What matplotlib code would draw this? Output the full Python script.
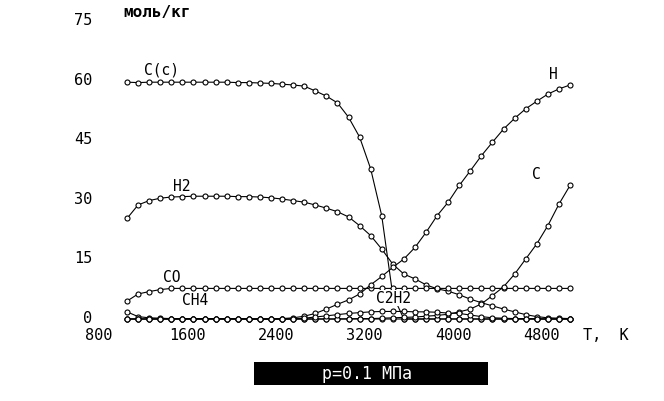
import matplotlib

matplotlib.use("Agg")

import matplotlib.pyplot as plt
import matplotlib.transforms as mtransforms
from matplotlib.patches import Rectangle

temperature = [
    1000, 1100, 1200, 1300, 1400, 1500, 1600, 1700, 1800, 1900,
    2000, 2100, 2200, 2300, 2400, 2500, 2600, 2700, 2800, 2900,
    3000, 3100, 3200, 3300, 3400, 3500, 3600, 3700, 3800, 3900,
    4000, 4100, 4200, 4300, 4400, 4500, 4600, 4700, 4800, 4900, 5000,
]

carbon_solid = [
    59.6, 59.5, 59.6, 59.6, 59.6, 59.6, 59.6, 59.6, 59.6, 59.6,
    59.5, 59.5, 59.4, 59.3, 59.1, 58.9, 58.6, 57.4, 56.1, 54.4,
    50.8, 45.8, 37.8, 26.0, 6.0, 0.0, 0.0, 0.0, 0.0, 0.0,
    0.0, 0.0, 0.0, 0.0, 0.0, 0.0, 0.0, 0.0, 0.0, 0.0, 0.0,
]
hydrogen_mol = [
    25.3, 28.7, 29.8, 30.4, 30.7, 30.8, 30.9, 30.9, 30.9, 30.9,
    30.8, 30.8, 30.7, 30.5, 30.2, 29.8, 29.4, 28.7, 27.9, 27.0,
    25.7, 23.5, 21.0, 17.6, 13.8, 11.3, 10.1, 8.6, 7.6, 7.0,
    6.1, 5.0, 4.1, 3.3, 2.5, 1.8, 1.1, 0.6, 0.3, 0.2, 0.1,
]
carbon_monoxide = [
    4.5, 6.3, 6.9, 7.4, 7.7, 7.7, 7.7, 7.7, 7.7, 7.7,
    7.7, 7.7, 7.7, 7.7, 7.7, 7.7, 7.7, 7.7, 7.7, 7.7,
    7.7, 7.7, 7.7, 7.7, 7.7, 7.7, 7.7, 7.7, 7.7, 7.7,
    7.7, 7.7, 7.7, 7.7, 7.7, 7.7, 7.7, 7.7, 7.7, 7.7, 7.7,
]
methane = [
    1.8, 0.6, 0.3, 0.2, 0.1, 0.1, 0.1, 0.1, 0.1, 0.1,
    0.1, 0.0, 0.0, 0.0, 0.0, 0.0, 0.0, 0.0, 0.0, 0.0,
    0.0, 0.0, 0.0, 0.0, 0.0, 0.0, 0.0, 0.0, 0.0, 0.0,
    0.0, 0.0, 0.0, 0.0, 0.0, 0.0, 0.0, 0.0, 0.0, 0.0, 0.0,
]
hydrogen_atom = [
    0.0, 0.0, 0.0, 0.0, 0.0, 0.0, 0.0, 0.0, 0.0, 0.0,
    0.0, 0.0, 0.0, 0.0, 0.1, 0.3, 0.7, 1.4, 2.5, 3.7,
    4.8, 6.3, 8.6, 10.7, 13.0, 15.1, 18.0, 21.8, 26.0, 29.4,
    33.6, 37.3, 41.1, 44.5, 47.8, 50.5, 52.9, 54.8, 56.6, 57.9, 58.9,
]
carbon_atom = [
    0.0, 0.0, 0.0, 0.0, 0.0, 0.0, 0.0, 0.0, 0.0, 0.0,
    0.0, 0.0, 0.0, 0.0, 0.0, 0.0, 0.0, 0.0, 0.0, 0.0,
    0.05, 0.1, 0.1, 0.2, 0.3, 0.4, 0.5, 0.7, 0.9, 1.2,
    1.8, 2.5, 3.8, 5.9, 8.1, 11.3, 15.1, 18.9, 23.5, 28.9, 33.6,
]
acetylene = [
    0.0, 0.0, 0.0, 0.0, 0.0, 0.0, 0.0, 0.0, 0.0, 0.0,
    0.0, 0.0, 0.0, 0.0, 0.0, 0.0, 0.2, 0.5, 0.8, 1.1,
    1.4, 1.6, 1.8, 1.9, 1.9, 1.9, 1.8, 1.8, 1.7, 1.5,
    1.4, 1.0, 0.6, 0.3, 0.2, 0.1, 0.1, 0.05, 0.0, 0.0, 0.0,
]

series = [carbon_solid, hydrogen_mol, carbon_monoxide, methane,
          hydrogen_atom, carbon_atom, acetylene]

curve_labels = ["C(c)", "H2", "CO", "CH4", "C2H2", "H", "C"]
label_positions = [(1316, 62.9), (1497, 33.7), (1406, 10.8), (1614, 4.8),
                   (3402, 5.3), (4847, 61.9), (4693, 36.5)]

x_ticks = [800, 1600, 2400, 3200, 4000, 4800]
y_ticks = [0, 15, 30, 45, 60, 75]

FONT = "DejaVu Sans Mono"

fig = plt.figure(figsize=(6.64, 4.02), dpi=100, facecolor="white")
W, H = 664, 402
left_px, right_px = 104.85, 570.0
top_px, bottom_px = 22.0, 320.0
ax = fig.add_axes([left_px / W, 1 - bottom_px / H,
                   (right_px - left_px) / W, (bottom_px - top_px) / H])

for values in series:
    ax.plot(temperature, values, color="black", linewidth=0.8,
            marker="o", markersize=3.6, markerfacecolor="white",
            markeredgecolor="black", markeredgewidth=0.8, clip_on=False)

for text, (tx, ty) in zip(curve_labels, label_positions):
    ax.text(tx, ty, text, ha="center", va="center", fontsize=10.5,
            family=FONT, color="black", zorder=5,
            bbox=dict(facecolor="white", edgecolor="none", pad=0.5))

ax.set_xlim(800, 5000)
ax.set_ylim(0, 75)
ax.set_xticks(x_ticks)
ax.set_yticks(y_ticks)
ax.set_xticklabels([str(v) for v in x_ticks], family=FONT, fontsize=11)
ax.set_yticklabels([str(v) for v in y_ticks], family=FONT, fontsize=11)
ax.tick_params(axis="both", length=0)
ax.tick_params(axis="y", pad=9.0)
ax.tick_params(axis="x", pad=6.0)
for spine in ax.spines.values():
    spine.set_visible(False)

shift_x = mtransforms.ScaledTranslation(-0.06, 0, fig.dpi_scale_trans)
for label in ax.get_xticklabels():
    label.set_transform(label.get_transform() + shift_x)
shift_y = mtransforms.ScaledTranslation(0, 0.03, fig.dpi_scale_trans)
for label in ax.get_yticklabels():
    label.set_transform(label.get_transform() + shift_y)

fig.text(157 / W, 1 - 12.5 / H, "моль/кг", ha="center", va="center",
         fontsize=11.5, family=FONT, fontweight="bold")
fig.text(606 / W, 1 - 336 / H, "T,  K", ha="center", va="center",
         fontsize=11, family=FONT)

fig.patches.append(Rectangle((254 / W, 16 / H), 234 / W, 23 / H,
                             transform=fig.transFigure, facecolor="black",
                             edgecolor="none"))
fig.text(367 / W, 1 - 374 / H, "p=0.1 МПа", ha="center", va="center",
         fontsize=12, family=FONT, color="white")

fig.savefig("out.png", dpi=100, facecolor="white")
